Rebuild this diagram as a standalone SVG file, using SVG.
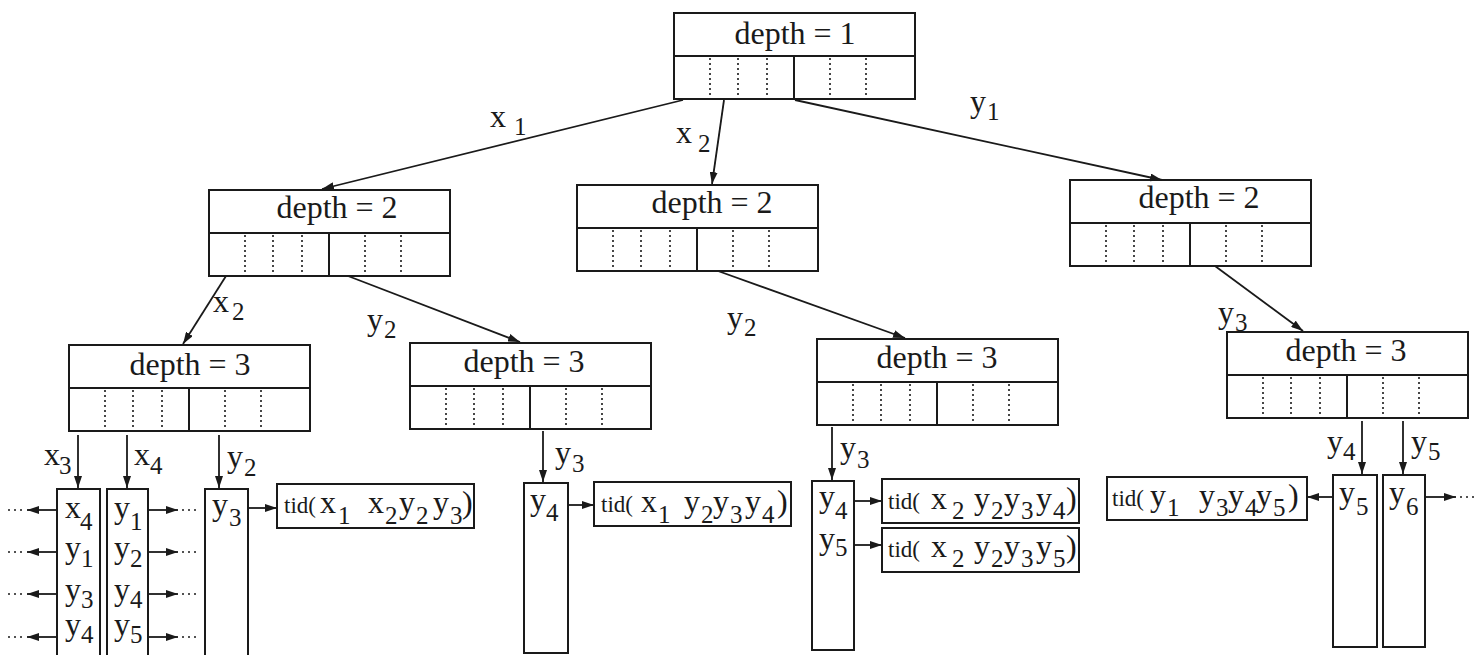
<svg xmlns="http://www.w3.org/2000/svg" xmlns:xlink="http://www.w3.org/1999/xlink" width="1474" height="655" viewBox="0 0 1474 655">
<style>
.box{fill:none;stroke:#1a1a1a;stroke-width:2}
.dot{stroke:#1a1a1a;stroke-width:1.6;stroke-dasharray:2 3}
.ed{stroke:#1a1a1a;stroke-width:1.8;fill:none}
.dd{stroke:#1a1a1a;stroke-width:1.6;stroke-dasharray:2 4}
text{font-family:"Liberation Serif","Times New Roman",serif;fill:#1a1a1a}
.h{font-size:32px;text-anchor:middle}
.v{font-size:32px}
.s{font-size:25px}
.t{font-size:23px}
</style>
<defs>
<marker id="ah" viewBox="0 0 12 8" refX="12" refY="4" markerWidth="12" markerHeight="8" markerUnits="userSpaceOnUse" orient="auto">
<path d="M0,0 L12,4 L0,8 z" fill="#1a1a1a"/>
</marker>
<g id="nodebox">
<rect class="box" x="0" y="0" width="241" height="86"/>
<line class="box" x1="0" y1="43" x2="241" y2="43"/>
<line class="box" x1="120" y1="43" x2="120" y2="86"/>
<line class="dot" x1="36" y1="45" x2="36" y2="85"/>
<line class="dot" x1="64" y1="45" x2="64" y2="85"/>
<line class="dot" x1="93" y1="45" x2="93" y2="85"/>
<line class="dot" x1="156" y1="45" x2="156" y2="85"/>
<line class="dot" x1="192" y1="45" x2="192" y2="85"/>
</g>
</defs>
<rect width="1474" height="655" fill="#ffffff"/>

<g id="n1" transform="translate(674,13)"><use xlink:href="#nodebox"/><text class="h" x="121" y="31">depth = 1</text></g>
<g id="n2l" transform="translate(209,190)"><use xlink:href="#nodebox"/><text class="h" x="128" y="28">depth = 2</text></g>
<g id="n2m" transform="translate(577,185)"><use xlink:href="#nodebox"/><text class="h" x="135" y="28">depth = 2</text></g>
<g id="n2r" transform="translate(1070,180)"><use xlink:href="#nodebox"/><text class="h" x="129" y="28">depth = 2</text></g>
<g id="n3l" transform="translate(69,345)"><use xlink:href="#nodebox"/><text class="h" x="121" y="30">depth = 3</text></g>
<g id="n3ml" transform="translate(410,343)"><use xlink:href="#nodebox"/><text class="h" x="114" y="29">depth = 3</text></g>
<g id="n3m" transform="translate(817,339)"><use xlink:href="#nodebox"/><text class="h" x="120" y="29">depth = 3</text></g>
<g id="n3r" transform="translate(1227,332)"><use xlink:href="#nodebox"/><text class="h" x="119" y="29">depth = 3</text></g>

<g id="col-l1"><rect class="box" x="57" y="489" width="43" height="180"/>
<text class="v" x="65" y="518">x</text><text class="s" x="80" y="530">4</text>
<text class="v" x="65" y="558">y</text><text class="s" x="81" y="567">1</text>
<text class="v" x="65" y="600">y</text><text class="s" x="81" y="608">3</text>
<text class="v" x="65" y="635">y</text><text class="s" x="81" y="643">4</text></g>
<g id="col-l2"><rect class="box" x="107" y="489" width="41" height="180"/>
<text class="v" x="114" y="518">y</text><text class="s" x="130" y="530">1</text>
<text class="v" x="114" y="558">y</text><text class="s" x="130" y="567">2</text>
<text class="v" x="114" y="600">y</text><text class="s" x="130" y="608">4</text>
<text class="v" x="114" y="635">y</text><text class="s" x="130" y="643">5</text></g>
<g id="col-l3"><rect class="box" x="205" y="489" width="43" height="180"/>
<text class="v" x="212" y="515">y</text><text class="s" x="229" y="526">3</text></g>
<g id="col-ml"><rect class="box" x="524" y="483" width="44" height="170"/>
<text class="v" x="530" y="510">y</text><text class="s" x="546" y="521">4</text></g>
<g id="col-m"><rect class="box" x="812" y="481" width="42" height="169"/>
<text class="v" x="819" y="507">y</text><text class="s" x="835" y="519">4</text>
<text class="v" x="819" y="549">y</text><text class="s" x="835" y="556">5</text></g>
<g id="col-r1"><rect class="box" x="1333" y="475" width="44" height="172"/>
<text class="v" x="1339" y="503">y</text><text class="s" x="1356" y="515">5</text></g>
<g id="col-r2"><rect class="box" x="1383" y="475" width="42" height="172"/>
<text class="v" x="1389" y="503">y</text><text class="s" x="1406" y="515">6</text></g>

<g id="tid1"><rect class="box" x="277" y="484" width="197" height="44"/>
<text class="v"><tspan class="t" x="284" y="513">tid(</tspan><tspan x="320">x</tspan><tspan class="s" x="338" y="524">1</tspan><tspan x="368" y="513">x</tspan><tspan class="s" x="385" y="524">2</tspan><tspan x="399" y="513">y</tspan><tspan class="s" x="416" y="524">2</tspan><tspan x="433" y="513">y</tspan><tspan class="s" x="450" y="524">3</tspan><tspan x="462" y="513">)</tspan></text></g>
<g id="tid2"><rect class="box" x="594" y="482" width="197" height="44"/>
<text class="v"><tspan class="t" x="601" y="512">tid(</tspan><tspan x="641">x</tspan><tspan class="s" x="658" y="523">1</tspan><tspan x="684" y="512">y</tspan><tspan class="s" x="701" y="523">2</tspan><tspan x="713" y="512">y</tspan><tspan class="s" x="730" y="523">3</tspan><tspan x="745" y="512">y</tspan><tspan class="s" x="762" y="523">4</tspan><tspan x="777" y="512">)</tspan></text></g>
<g id="tid3"><rect class="box" x="882" y="479" width="197" height="44"/>
<text class="v"><tspan class="t" x="888" y="509">tid(</tspan><tspan x="931">x</tspan><tspan class="s" x="952" y="519">2</tspan><tspan x="974" y="509">y</tspan><tspan class="s" x="991" y="519">2</tspan><tspan x="1004" y="509">y</tspan><tspan class="s" x="1021" y="519">3</tspan><tspan x="1036" y="509">y</tspan><tspan class="s" x="1053" y="519">4</tspan><tspan x="1066" y="509">)</tspan></text></g>
<g id="tid4"><rect class="box" x="882" y="528" width="197" height="44"/>
<text class="v"><tspan class="t" x="888" y="557">tid(</tspan><tspan x="931">x</tspan><tspan class="s" x="952" y="567">2</tspan><tspan x="974" y="557">y</tspan><tspan class="s" x="991" y="567">2</tspan><tspan x="1004" y="557">y</tspan><tspan class="s" x="1021" y="567">3</tspan><tspan x="1036" y="557">y</tspan><tspan class="s" x="1053" y="567">5</tspan><tspan x="1066" y="557">)</tspan></text></g>
<g id="tid5"><rect class="box" x="1107" y="477" width="200" height="43"/>
<text class="v"><tspan class="t" x="1112" y="506">tid(</tspan><tspan x="1150">y</tspan><tspan class="s" x="1167" y="516">1</tspan><tspan x="1199" y="506">y</tspan><tspan class="s" x="1216" y="516">3</tspan><tspan x="1228" y="506">y</tspan><tspan class="s" x="1245" y="516">4</tspan><tspan x="1256" y="506">y</tspan><tspan class="s" x="1273" y="516">5</tspan><tspan x="1288" y="506">)</tspan></text></g>

<g id="connectors">
<line class="ed" x1="683" y1="100" x2="322" y2="189" marker-end="url(#ah)"/>
<line class="ed" x1="724" y1="100" x2="712" y2="184" marker-end="url(#ah)"/>
<line class="ed" x1="795" y1="100" x2="1162" y2="180" marker-end="url(#ah)"/>
<line class="ed" x1="226" y1="276" x2="183" y2="344" marker-end="url(#ah)"/>
<line class="ed" x1="348" y1="276" x2="520" y2="342" marker-end="url(#ah)"/>
<line class="ed" x1="718" y1="271" x2="905" y2="338" marker-end="url(#ah)"/>
<line class="ed" x1="1215" y1="266" x2="1303" y2="331" marker-end="url(#ah)"/>
<line class="ed" x1="78" y1="435" x2="78" y2="488" marker-end="url(#ah)"/>
<line class="ed" x1="127" y1="435" x2="127" y2="488" marker-end="url(#ah)"/>
<line class="ed" x1="219" y1="435" x2="219" y2="488" marker-end="url(#ah)"/>
<line class="ed" x1="543" y1="431" x2="543" y2="482" marker-end="url(#ah)"/>
<line class="ed" x1="832" y1="427" x2="832" y2="480" marker-end="url(#ah)"/>
<line class="ed" x1="1362" y1="421" x2="1362" y2="474" marker-end="url(#ah)"/>
<line class="ed" x1="1403" y1="421" x2="1403" y2="474" marker-end="url(#ah)"/>
<line class="ed" x1="57" y1="510" x2="27" y2="510" marker-end="url(#ah)"/>
<line class="ed" x1="57" y1="552" x2="27" y2="552" marker-end="url(#ah)"/>
<line class="ed" x1="57" y1="594" x2="27" y2="594" marker-end="url(#ah)"/>
<line class="ed" x1="57" y1="637" x2="27" y2="637" marker-end="url(#ah)"/>
<line class="dd" x1="8" y1="510" x2="24" y2="510"/>
<line class="dd" x1="8" y1="552" x2="24" y2="552"/>
<line class="dd" x1="8" y1="594" x2="24" y2="594"/>
<line class="dd" x1="8" y1="637" x2="24" y2="637"/>
<line class="ed" x1="148" y1="510" x2="178" y2="510" marker-end="url(#ah)"/>
<line class="ed" x1="148" y1="552" x2="178" y2="552" marker-end="url(#ah)"/>
<line class="ed" x1="148" y1="594" x2="178" y2="594" marker-end="url(#ah)"/>
<line class="ed" x1="148" y1="637" x2="178" y2="637" marker-end="url(#ah)"/>
<line class="dd" x1="182" y1="510" x2="200" y2="510"/>
<line class="dd" x1="182" y1="552" x2="200" y2="552"/>
<line class="dd" x1="182" y1="594" x2="200" y2="594"/>
<line class="dd" x1="182" y1="637" x2="200" y2="637"/>
<line class="ed" x1="248" y1="508" x2="277" y2="508" marker-end="url(#ah)"/>
<line class="ed" x1="568" y1="505" x2="594" y2="505" marker-end="url(#ah)"/>
<line class="ed" x1="854" y1="501" x2="882" y2="501" marker-end="url(#ah)"/>
<line class="ed" x1="854" y1="545" x2="882" y2="545" marker-end="url(#ah)"/>
<line class="ed" x1="1333" y1="497" x2="1307" y2="497" marker-end="url(#ah)"/>
<line class="ed" x1="1425" y1="497" x2="1456" y2="497" marker-end="url(#ah)"/>
<line class="dd" x1="1460" y1="497" x2="1474" y2="497"/>
</g>

<g id="edge-labels">
<text class="v" x="490" y="127">x</text><text class="s" x="514" y="135">1</text>
<text class="v" x="676" y="143">x</text><text class="s" x="698" y="152">2</text>
<text class="v" x="970" y="112">y</text><text class="s" x="987" y="120">1</text>
<text class="v" x="213" y="312">x</text><text class="s" x="232" y="320">2</text>
<text class="v" x="367" y="330">y</text><text class="s" x="384" y="338">2</text>
<text class="v" x="727" y="328">y</text><text class="s" x="744" y="336">2</text>
<text class="v" x="1218" y="323">y</text><text class="s" x="1235" y="331">3</text>
<text class="v" x="44" y="465">x</text><text class="s" x="59" y="474">3</text>
<text class="v" x="134" y="465">x</text><text class="s" x="150" y="474">4</text>
<text class="v" x="227" y="467">y</text><text class="s" x="244" y="476">2</text>
<text class="v" x="555" y="463">y</text><text class="s" x="572" y="472">3</text>
<text class="v" x="840" y="458">y</text><text class="s" x="857" y="468">3</text>
<text class="v" x="1327" y="452">y</text><text class="s" x="1343" y="460">4</text>
<text class="v" x="1411" y="452">y</text><text class="s" x="1428" y="460">5</text>
</g>
</svg>
